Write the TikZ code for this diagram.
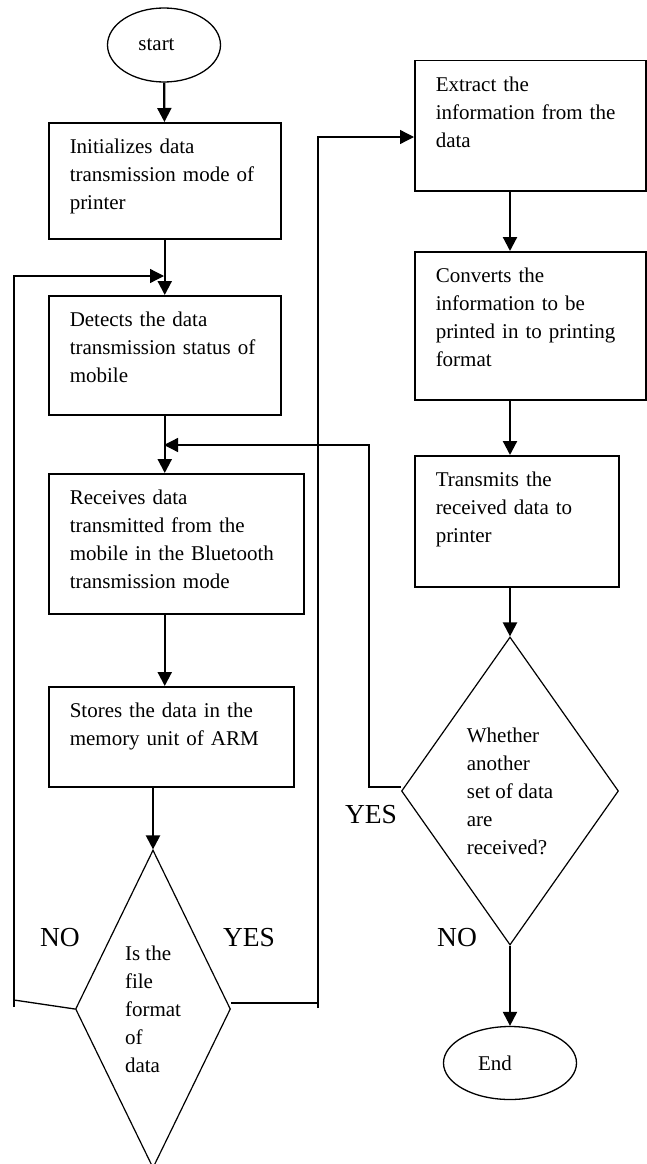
\documentclass[tikz,border=0pt]{standalone}
\usepackage{fontspec}
\setmainfont{Liberation Serif}
\usetikzlibrary{shapes.geometric, arrows.meta}
\newcommand\flowfont{\fontsize{21}{28}\selectfont}
\newcommand\answerfont{\fontsize{27.5}{33}\selectfont}

\begin{document}
\begin{tikzpicture}[x=1pt, y=-1pt,
        procbox/.style={draw, line width=1.5pt, anchor=north west, align=left, inner xsep=21pt, inner ysep=0pt, text height=31pt, font=\flowfont},
        decision/.style={diamond, draw, line width=1.2pt, inner sep=0pt, align=left, font=\flowfont},
        terminal/.style={ellipse, draw, line width=1.3pt, inner sep=0pt, font=\flowfont},
        answer/.style={inner sep=0pt, font=\answerfont},
        tip/.style={-{Triangle[length=14pt, width=14pt]}},
        flow/.style={tip, line width=2.2pt},
        back/.style={line width=1.3pt}]
        \useasboundingbox (0,0) rectangle (647,1164);

        \node[terminal, minimum width=113pt, minimum height=74pt] (start) at (164,45) {start\hspace*{15pt}};
        \node[procbox, text width=190pt, text depth=85pt] (init) at (48,122) {Initializes data\\transmission mode of\\printer};
        \node[procbox, text width=190pt, text depth=88pt] (detect) at (48,295) {Detects the data\\transmission status of\\mobile};
        \node[procbox, text width=213pt, text depth=109pt] (receive) at (48,473) {Receives data\\transmitted from the\\mobile in the Bluetooth\\transmission mode};
        \node[procbox, text width=203pt, text depth=69pt] (store) at (48,686) {Stores the data in the\\memory unit of ARM};
        \node[decision, aspect=0.5, minimum width=155pt, minimum height=318pt] (check) at (153,1009) {Is the\\file\\format\\of\\data};

        \node[procbox, text width=189pt, text depth=99pt] (extract) at (414,60) {Extract the\\information from the\\data};
        \node[procbox, text width=189pt, text depth=117pt] (convert) at (414,251) {Converts the\\information to be\\printed in to printing\\format};
        \node[procbox, text width=162pt, text depth=100pt] (transmit) at (414,455) {Transmits the\\received data to\\printer};
        \node[decision, aspect=0.7, minimum width=217pt, minimum height=308pt] (more) at (510,791) {Whether\\another\\set of data\\are\\received?};
        \node[terminal, minimum width=133pt, minimum height=73pt] (finish) at (510,1063) {End\hspace*{30pt}};

        \node[answer] (nolabel) at (60,938) {NO};
        \node[answer] (yeslabel) at (249,938) {YES};
        \node[answer] (againlabel) at (371,815) {YES};
        \node[answer] (stoplabel) at (457,938) {NO};

        \coordinate (nobend) at (14,1000);
        \coordinate (nojoin) at (164,276);
        \coordinate (yesbend) at (318,1003);
        \coordinate (yestop) at (318,137);
        \coordinate (againbend) at (369,787);
        \coordinate (againjoin) at (164,445);

        \draw[flow] (start) -- (init);
        \draw[flow] (init) -- (detect);
        \draw[flow] (detect.south) -- (detect.south |- receive.north);
        \draw[flow] (receive.south -| detect.south) -- (detect.south |- store.north);
        \draw[flow] (store.south -| check.north) -- (check.north);

        \draw[back] (check.west) -- (nobend);
        \draw[back, tip] ([yshift=-7pt]nobend) -- (nobend |- nojoin) -- (nojoin);
        \draw[back] (yesbend -| check.east) -- (yesbend);
        \draw[back, tip] ([yshift=-5pt]yesbend) -- (yestop) -- (yestop -| extract.west);

        \draw[flow] (extract.south -| more.north) -- (convert.north -| more.north);
        \draw[flow] (convert.south -| more.north) -- (transmit.north -| more.north);
        \draw[flow] (transmit.south -| more.north) -- (more.north);
        \draw[back, tip] (againbend -| more.west) -- (againbend) -- (againbend |- againjoin) -- (againjoin);
        \draw[flow] (more) -- (finish);
    \end{tikzpicture}
\end{document}
